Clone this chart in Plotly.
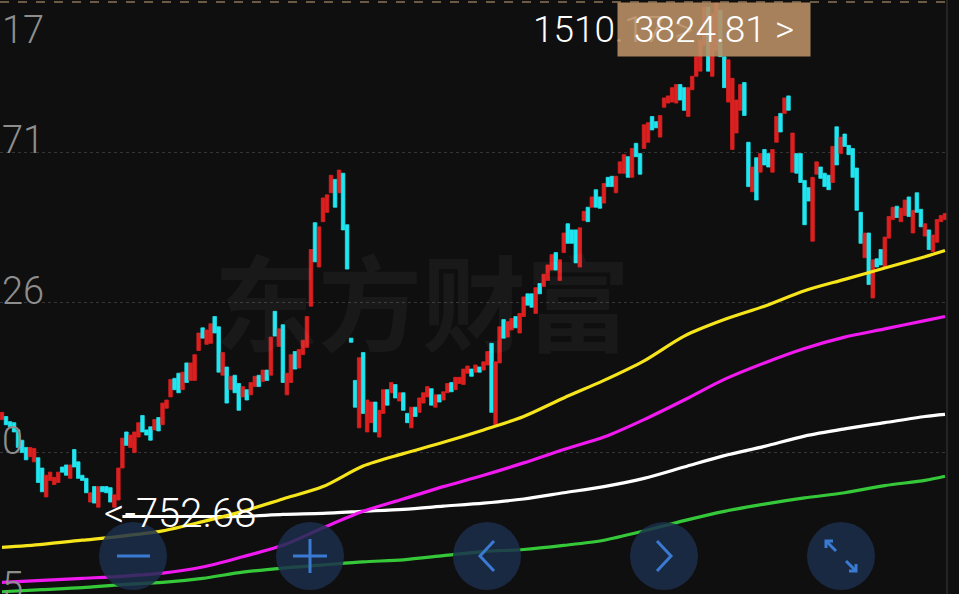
import plotly.graph_objects as go

# ---------------- data ----------------
opens = [3012,3015,3010,3009,3002,2992,2985,2976,2971,2975,2965,2937,2953,2949,2951,2966,2968,2955,2983,2971,
         2958,2955,2932,2947,2927,2947,2947,2946,2927,2934,2965,3000,2985,2980,2995,3016,3002,3005,3002,3014,
         3007,3023,3034,3052,3057,3041,3067,3050,3050,3079,3101,3085,3086,3112,3102,3055,3063,3041,3055,3047,
         3034,3041,3036,3044,3055,3049,3060,3055,3117,3083,3104,3036,3048,3078,3062,3075,3082,3122,3203,3160,
         3204,3213,3232,3245,3232,3251,3201,3091,3050,3004,3077,3000,3009,3029,2995,3018,3041,3038,3046,3030,
         3038,3018,3004,3024,3019,3028,3034,3042,3024,3036,3031,3038,3048,3041,3047,3046,3057,3061,3058,3063,
         3060,3065,3086,3007,3067,3109,3092,3099,3112,3096,3112,3134,3134,3115,3144,3141,3147,3157,3174,3147,
         3174,3202,3196,3196,3160,3205,3218,3218,3235,3228,3222,3247,3248,3232,3251,3251,3267,3247,3280,3270,
         3275,3281,3306,3301,3286,3315,3319,3320,3319,3337,3334,3306,3332,3345,3350,3375,3412,3345,3370,3409,
         3364,3320,3274,3290,3312,3339,3281,3233,3266,3252,3274,3270,3252,3281,3309,3309,3326,3252,3270,3270,
         3244,3237,3185,3250,3257,3251,3249,3242,3296,3270,3289,3278,3275,3256,3213,3169,3193,3130,3168,3177,
         3160,3188,3206,3219,3204,3210,3228,3193,3232,3216,3190,3196,3175,3184,3204,3206]
closes = [3019,3007,3005,3000,2985,2980,2973,2985,2984,2951,2942,2958,2961,2956,2961,2961,2958,2968,2966,2955,
          2953,2941,2941,2931,2947,2942,2941,2932,2939,2965,2994,2987,2997,3000,3009,3000,2997,2992,3012,3001,
          3028,3031,3051,3041,3038,3058,3048,3067,3075,3096,3091,3099,3105,3096,3058,3077,3028,3054,3038,3021,
          3044,3031,3048,3054,3044,3060,3050,3092,3093,3100,3048,3057,3075,3061,3080,3089,3112,3177,3165,3199,
          3227,3230,3249,3218,3254,3196,3158,3087,3024,3072,3018,3031,3029,3000,3021,3041,3026,3048,3033,3038,
          3021,3009,3024,3015,3033,3038,3044,3026,3036,3029,3039,3047,3039,3053,3053,3061,3064,3054,3065,3058,
          3068,3078,3019,3068,3102,3091,3107,3110,3101,3115,3131,3123,3121,3140,3134,3153,3162,3172,3157,3167,
          3193,3183,3183,3164,3198,3214,3204,3228,3218,3217,3241,3238,3238,3248,3262,3269,3247,3275,3267,3250,
          3298,3300,3293,3295,3307,3324,3326,3334,3337,3322,3312,3334,3345,3364,3380,3412,3350,3406,3416,3364,
          3334,3361,3343,3322,3337,3307,3238,3257,3225,3270,3259,3257,3274,3306,3291,3324,3312,3290,3251,3242,
          3201,3224,3247,3262,3246,3238,3235,3277,3259,3286,3277,3269,3247,3215,3183,3193,3143,3167,3160,3162,
          3189,3209,3218,3208,3217,3225,3209,3215,3213,3199,3202,3177,3191,3206,3210,3212]
highs = [3019,3015,3010,3009,3002,2992,2985,2985,2984,2975,2965,2958,2961,2956,2961,2966,2968,2968,2983,2971,
         2958,2955,2941,2947,2947,2947,2947,2946,2939,2965,2994,3000,2997,3000,3009,3016,3002,3005,3012,3014,
         3028,3031,3051,3052,3057,3058,3067,3067,3075,3096,3101,3099,3105,3112,3102,3077,3063,3054,3055,3047,
         3044,3041,3048,3054,3055,3060,3060,3092,3117,3100,3104,3057,3075,3078,3080,3089,3112,3177,3203,3199,
         3227,3230,3249,3245,3254,3251,3201,3091,3050,3072,3077,3031,3029,3029,3021,3041,3041,3048,3046,3038,
         3038,3018,3024,3024,3033,3038,3044,3042,3036,3036,3039,3047,3048,3053,3053,3061,3064,3061,3065,3063,
         3068,3078,3086,3068,3102,3109,3107,3110,3112,3115,3131,3134,3134,3140,3144,3153,3162,3172,3174,3167,
         3193,3202,3196,3196,3198,3214,3218,3228,3235,3228,3241,3247,3248,3248,3262,3269,3267,3275,3280,3270,
         3298,3300,3306,3301,3307,3324,3326,3334,3337,3337,3334,3334,3345,3364,3380,3412,3412,3406,3416,3409,
         3364,3361,3343,3322,3337,3339,3281,3257,3266,3270,3274,3270,3274,3306,3309,3324,3326,3290,3270,3270,
         3244,3237,3247,3262,3257,3251,3249,3277,3296,3286,3289,3278,3275,3256,3213,3193,3193,3167,3168,3177,
         3189,3209,3218,3219,3217,3225,3228,3215,3232,3216,3202,3196,3191,3206,3210,3212]
lows = [3012,3007,3005,3000,2985,2980,2973,2976,2971,2951,2942,2937,2953,2949,2951,2961,2958,2955,2966,2955,
        2953,2941,2932,2931,2927,2942,2941,2932,2927,2934,2965,2987,2985,2980,2995,3000,2997,2992,3002,3001,
        3007,3023,3034,3041,3038,3041,3048,3050,3050,3079,3091,3085,3086,3096,3058,3055,3028,3041,3038,3021,
        3034,3031,3036,3044,3044,3049,3050,3055,3093,3083,3048,3036,3048,3061,3062,3075,3082,3122,3165,3160,
        3204,3213,3232,3218,3232,3196,3158,3087,3024,3004,3018,3000,3009,3000,2995,3018,3026,3038,3033,3030,
        3021,3009,3004,3015,3019,3028,3034,3026,3024,3029,3031,3038,3039,3041,3047,3046,3057,3054,3058,3058,
        3060,3065,3019,3007,3067,3091,3092,3099,3101,3096,3112,3123,3121,3115,3134,3141,3147,3157,3157,3147,
        3174,3183,3183,3164,3160,3205,3204,3218,3218,3217,3222,3238,3238,3232,3251,3251,3247,3247,3267,3250,
        3275,3281,3293,3295,3286,3315,3319,3320,3319,3322,3312,3306,3332,3345,3350,3375,3350,3345,3370,3364,
        3334,3320,3274,3290,3312,3307,3238,3233,3225,3252,3259,3257,3252,3281,3291,3309,3312,3252,3251,3242,
        3201,3224,3185,3250,3246,3238,3235,3242,3259,3270,3277,3269,3247,3215,3183,3169,3143,3130,3160,3162,
        3160,3188,3206,3208,3204,3210,3209,3193,3213,3199,3190,3177,3175,3184,3204,3206]
bar_index = list(range(len(closes)))

ma_index = [0,10,20,30,40,50,60,70,80,90,100,110,120,130,140,150,160,170,180,190,200,210,220,230,235]
ma_yellow = [2888,2891,2895,2899,2904,2913,2923,2935,2947,2967,2979,2990,3002,3015,3033,3050,3069,3093,3109,3122,3137,3148,3159,3170,3176]
ma_magenta = [2854,2856,2858,2860,2863,2869,2879,2890,2907,2923,2935,2947,2958,2970,2983,2995,3012,3031,3051,3067,3081,3092,3100,3108,3112]
ma_green = [2845,2847,2849,2852,2854,2858,2864,2868,2871,2874,2876,2880,2884,2886,2890,2895,2904,2914,2923,2930,2936,2941,2948,2953,2957]
ma_white_index = [30,40,50,60,70,80,90,100,110,120,130,140,150,160,170,180,190,200,210,220,230,235]
ma_white = [2918,2918,2918,2918,2920,2921,2923,2925,2928,2931,2935,2941,2947,2955,2966,2977,2986,2996,3003,3009,3015,3017]

grid_values = [3417, 3271.5, 3126, 2980.5, 2835]
tick_labels = ["17", "71", "26", "0", "5"]
max_text = "3824.81 >"
behind_text = "1510.17 >"
min_text = "<-752.68"
watermark = "东方财富"

# ---------------- layout helpers ----------------
W, H = 959, 594
PLOT_W = 947
Y_TOP, Y_BOT = 3419.0, 3419.0 - 0.97 * 594


def xp(px):
    return px / PLOT_W


def yp(py):
    return 1 - py / H


RED = "#dc2020"
CYAN = "#1fe6f0"
BG = "#0f0f0f"
NUM_FONT = "Roboto"

fig = go.Figure()
fig.add_trace(go.Candlestick(
    x=bar_index, open=opens, high=highs, low=lows, close=closes,
    increasing=dict(line=dict(color=RED, width=0.8), fillcolor=RED),
    decreasing=dict(line=dict(color=CYAN, width=0.8), fillcolor=CYAN),
    whiskerwidth=0, hoverinfo="skip", showlegend=False))

for xs, ys, col in [(ma_index, ma_green, "#35c93a"), (ma_white_index, ma_white, "#ffffff"),
                    (ma_index, ma_magenta, "#f01af0"), (ma_index, ma_yellow, "#f7e51c")]:
    fig.add_trace(go.Scatter(x=xs, y=ys, mode="lines", line=dict(color=col, width=3.2, shape="spline", smoothing=0.8),
                             hoverinfo="skip", showlegend=False))

shapes = []
# top dashed line
shapes.append(dict(type="line", xref="paper", yref="y", x0=0, x1=1, y0=grid_values[0], y1=grid_values[0],
                   line=dict(color="#8a7458", width=1.5, dash="dash"), layer="above"))
# right border
shapes.append(dict(type="line", xref="paper", yref="paper", x0=1, x1=1, y0=0, y1=1,
                   line=dict(color="#2c2c2c", width=1.5), layer="above"))
# buttons
centers = [133, 310, 487, 664, 841]
cy, r = 556, 34
for cx in centers:
    shapes.append(dict(type="circle", xref="paper", yref="paper", x0=xp(cx - r), x1=xp(cx + r),
                       y0=yp(cy + r), y1=yp(cy - r), fillcolor="rgba(27,46,76,0.84)", line=dict(width=0),
                       layer="above"))
BLUE = "#3a7ad2"


def path(points):
    return "M " + " L ".join(f"{xp(x):.5f},{yp(y):.5f}" for x, y in points)


icon_lines = [
    [(117, 556), (150, 556)],
    [(293, 556), (327, 556)], [(310, 539), (310, 573)],
    [(494, 541), (480, 556), (494, 571)],
    [(657, 541), (671, 556), (657, 571)],
    [(826, 541), (836, 551)], [(826, 548), (826, 541), (833, 541)],
    [(846, 561), (856, 571)], [(856, 564), (856, 571), (849, 571)],
]
for pts in icon_lines:
    shapes.append(dict(type="path", xref="paper", yref="paper", path=path(pts),
                       line=dict(color=BLUE, width=3), layer="above"))

annotations = []
label_py = [30, 140, 291, 441, 586]
for lab, py in zip(tick_labels, label_py):
    annotations.append(dict(text=lab, xref="paper", yref="paper", x=0, y=yp(py), xanchor="left", yanchor="middle",
                            showarrow=False, font=dict(family=NUM_FONT, size=38, color="#8e8e8e", weight=300)))
annotations.append(dict(text=watermark, xref="paper", yref="paper", x=xp(422), y=yp(298), xanchor="center",
                        yanchor="middle", showarrow=False,
                        font=dict(family="Noto Sans CJK SC", size=104, color="rgba(255,255,255,0.045)", weight=700)))
annotations.append(dict(text=behind_text, xref="paper", yref="paper", x=xp(531), y=yp(29), xanchor="left",
                        yanchor="middle", showarrow=False,
                        font=dict(family=NUM_FONT, size=37, color="#ffffff", weight=300)))
annotations.append(dict(text=max_text, xref="paper", yref="paper", x=xp(714), y=yp(29), xanchor="center",
                        yanchor="middle", showarrow=False, width=188, height=49, borderpad=2,
                        bgcolor="rgba(184,142,100,0.9)",
                        font=dict(family=NUM_FONT, size=37, color="#ffffff", weight=300)))
annotations.append(dict(text=min_text, xref="paper", yref="paper", x=xp(102), y=yp(513), xanchor="left",
                        yanchor="middle", showarrow=False,
                        font=dict(family=NUM_FONT, size=40, color="#ffffff", weight=300)))

fig.update_layout(
    width=W, height=H, margin=dict(l=0, r=W - PLOT_W, t=0, b=0),
    paper_bgcolor=BG, plot_bgcolor=BG, showlegend=False, boxgap=0.12, boxgroupgap=0,
    xaxis=dict(range=[-0.5, len(closes) - 0.5], visible=False, rangeslider=dict(visible=False), fixedrange=True),
    yaxis=dict(range=[Y_BOT, Y_TOP], tickvals=grid_values[1:], showticklabels=False, showgrid=True,
               gridcolor="#363636", griddash="dot", gridwidth=1, zeroline=False, showline=False, ticks=""),
    shapes=shapes, annotations=annotations,
)

fig.write_html("out.html", config={"displayModeBar": False},
               post_script="document.body.style.margin='0';document.body.style.overflow='hidden';")
